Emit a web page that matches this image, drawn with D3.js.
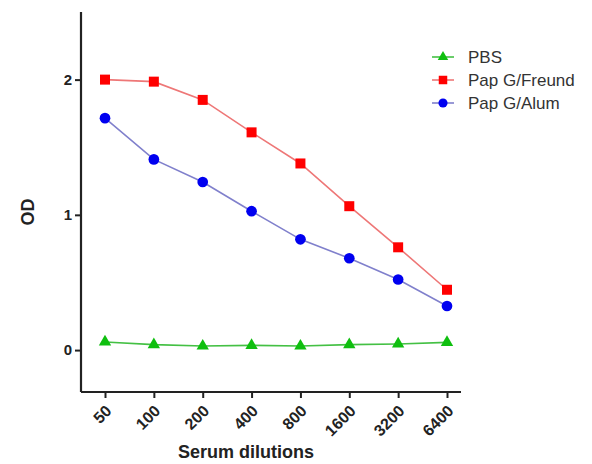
<!DOCTYPE html>
<html>
<head>
<meta charset="utf-8">
<script src="https://cdnjs.cloudflare.com/ajax/libs/d3/7.8.5/d3.min.js"></script>
<style>
  body { margin: 0; background: #fff; }
  text { font-family: "Liberation Sans", Arial, sans-serif; }
</style>
</head>
<body>
<svg id="chart" width="592" height="464"></svg>
<script>
// dilution categories and OD readings per group
var dilutions = ['50', '100', '200', '400', '800', '1600', '3200', '6400'];
var pbs = [0.06, 0.04, 0.03, 0.035, 0.03, 0.04, 0.045, 0.057];
var freund = [2.0, 1.985, 1.85, 1.61, 1.38, 1.064, 0.76, 0.446];
var alum = [1.715, 1.41, 1.243, 1.027, 0.819, 0.679, 0.522, 0.326];
var yTicks = [0, 1, 2];

var series = [
  {name: 'PBS', values: pbs, line: '#44c044', fill: '#0fbf0f', shape: 'triangle'},
  {name: 'Pap G/Freund', values: freund, line: '#e77', fill: '#f00', shape: 'square'},
  {name: 'Pap G/Alum', values: alum, line: '#8080cc', fill: '#0000f0', shape: 'circle'}
];

var svg = d3.select('#chart');
var plotLeft = 81, plotRight = 461, plotTop = 12, plotBottom = 392;

var x = d3.scalePoint().domain(dilutions).range([105, 447]);
var y = d3.scaleLinear().domain([-0.31, 2.5]).range([plotBottom, plotTop]);

// axes
var yAxis = svg.append('g').attr('transform', 'translate(' + plotLeft + ',0)')
  .call(d3.axisLeft(y).tickValues(yTicks).tickSize(6).tickPadding(3).tickFormat(d3.format('d')));
yAxis.select('.domain').attr('d', 'M0,' + plotTop + 'V' + plotBottom);

var xAxis = svg.append('g').attr('transform', 'translate(0,' + plotBottom + ')')
  .call(d3.axisBottom(x).tickSize(6).tickPadding(4));
xAxis.select('.domain').attr('d', 'M' + plotLeft + ',0H' + plotRight);

svg.selectAll('.domain').attr('stroke', '#222').attr('stroke-width', 2.2);
svg.selectAll('.tick line').attr('stroke', '#222').attr('stroke-width', 2);
svg.selectAll('.tick text').attr('font-size', 15).attr('font-weight', 'bold')
  .attr('fill', '#222').attr('font-family', '"Liberation Sans", Arial, sans-serif');

xAxis.selectAll('.tick text')
  .attr('font-size', 16)
  .attr('text-anchor', 'end')
  .attr('y', 0)
  .attr('dy', '0.35em')
  .attr('transform', 'translate(3,16) rotate(-45)');

// axis titles
svg.append('text').attr('transform', 'translate(34,212) rotate(-90)')
  .attr('text-anchor', 'middle').attr('font-size', 18).attr('font-weight', 'bold')
  .attr('fill', '#222').text('OD');
svg.append('text').attr('x', 246).attr('y', 458)
  .attr('text-anchor', 'middle').attr('font-size', 18).attr('font-weight', 'bold')
  .attr('fill', '#222').text('Serum dilutions');

var symbolFor = {
  triangle: d3.symbol().type(d3.symbolTriangle).size(66),
  square: d3.symbol().type(d3.symbolSquare).size(100),
  circle: d3.symbol().type(d3.symbolCircle).size(90)
};

var line = d3.line().x(function(d, i) { return x(dilutions[i]); }).y(function(d) { return y(d); });

series.forEach(function(s) {
  svg.append('path').attr('d', line(s.values)).attr('fill', 'none')
    .attr('stroke', s.line).attr('stroke-width', 1.6);
  svg.selectAll(null).data(s.values).enter().append('path')
    .attr('d', symbolFor[s.shape]())
    .attr('transform', function(d, i) { return 'translate(' + x(dilutions[i]) + ',' + y(d) + ')'; })
    .attr('fill', s.fill);
});

// legend
var legend = svg.append('g');
series.forEach(function(s, i) {
  var ly = 57 + i * 23;
  legend.append('line').attr('x1', 432).attr('x2', 454).attr('y1', ly).attr('y2', ly)
    .attr('stroke', s.line).attr('stroke-width', 1.6);
  legend.append('path').attr('d', symbolFor[s.shape]())
    .attr('transform', 'translate(443,' + ly + ') scale(0.85)').attr('fill', s.fill);
  legend.append('text').attr('x', 468).attr('y', ly).attr('dy', '0.36em')
    .attr('font-size', 17).attr('fill', '#333').text(s.name);
});
</script>
</body>
</html>
